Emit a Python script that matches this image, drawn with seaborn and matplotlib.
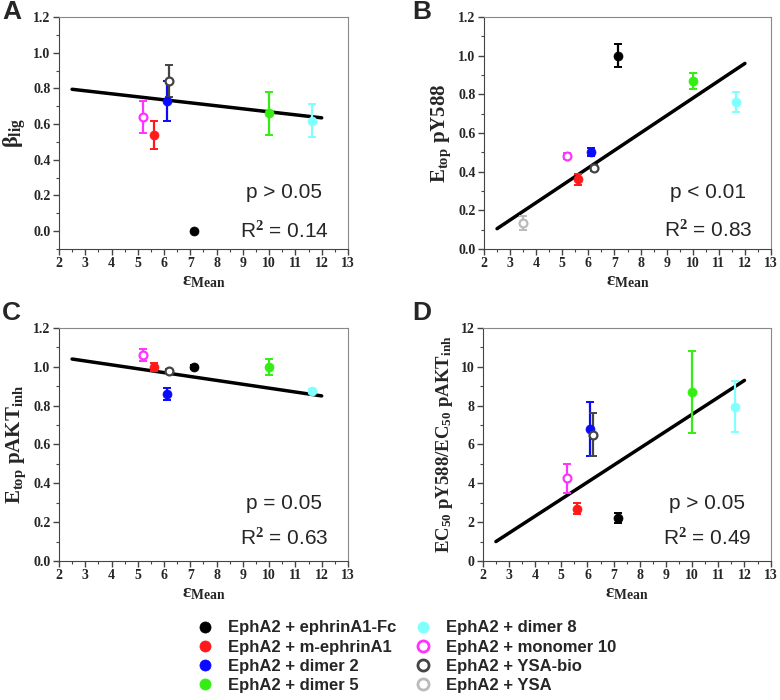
import numpy as np
import matplotlib
matplotlib.use("Agg")
import matplotlib.pyplot as plt
from matplotlib.ticker import MultipleLocator
from matplotlib.lines import Line2D
import seaborn as sns

# series names, colours and marker fill
names = ["EphA2 + ephrinA1-Fc", "EphA2 + m-ephrinA1", "EphA2 + dimer 2", "EphA2 + dimer 5",
         "EphA2 + dimer 8", "EphA2 + monomer 10", "EphA2 + YSA-bio", "EphA2 + YSA"]
colors = ["#000000", "#ff1a1a", "#0a0aff", "#33ee11", "#80ffff", "#ff33ff", "#444444", "#bbbbbb"]
hollow = [False, False, False, False, False, True, True, True]

# epsilon mean (x) for each series
eps_mean = [7.15, 5.6, 6.1, 10.0, 11.65, 5.2, 6.2, 3.5]

# panel A: beta_lig (None = not measured)
beta_lig = [0.0, 0.54, 0.73, 0.66, 0.62, 0.64, 0.84, None]
beta_lig_err = [0.0, 0.08, 0.11, 0.12, 0.09, 0.09, 0.09, None]
fitA_x, fitA_y = [2.5, 12.0], [0.795, 0.635]

# panel B: E_top pY588
etop_py = [1.00, 0.36, 0.50, 0.87, 0.76, 0.48, 0.42, 0.135]
etop_py_err = [0.06, 0.03, 0.02, 0.04, 0.05, 0.015, 0.015, 0.035]
fitB_x, fitB_y = [2.5, 12.0], [0.105, 0.96]

# panel C: E_top pAKT_inh
etop_akt = [1.00, 1.00, 0.86, 1.00, 0.875, 1.06, 0.98, None]
etop_akt_err = [0.01, 0.02, 0.03, 0.04, 0.01, 0.03, 0.01, None]
fitC_x, fitC_y = [2.5, 12.0], [1.04, 0.85]

# panel D: EC50 ratio
ec50_ratio = [2.2, 2.7, 6.8, 8.7, 7.95, 4.25, 6.5, None]
ec50_ratio_err = [0.25, 0.3, 1.4, 2.1, 1.3, 0.75, 1.1, None]
fitD_x, fitD_y = [2.5, 12.0], [1.0, 9.3]

sns.set_style("ticks")
plt.rcParams["font.family"] = ["Liberation Serif"]
plt.rcParams["font.weight"] = "bold"
plt.rcParams["mathtext.fontset"] = "custom"
plt.rcParams["mathtext.rm"] = "Liberation Serif:bold"
plt.rcParams["mathtext.it"] = "Liberation Serif:bold"
plt.rcParams["mathtext.bf"] = "Liberation Serif:bold"

fig = plt.figure(figsize=(7.8, 7.0), dpi=100)
axA = fig.add_axes([0.0756, 0.6443, 0.3705, 0.3314])
axB = fig.add_axes([0.6205, 0.6443, 0.368, 0.3314])
axC = fig.add_axes([0.0756, 0.1986, 0.3705, 0.3329])
axD = fig.add_axes([0.619, 0.1986, 0.369, 0.3329])


def panel(ax, yv, ye, fx, fy, ylim, ystep, ylabel, ptxt, r2txt, letter, ylab_size):
    sns.lineplot(x=fx, y=fy, ax=ax, color="black", lw=2.5, zorder=2)
    for i in range(len(names)):
        if yv[i] is None:
            continue
        if ye[i] > 0:
            ax.errorbar(eps_mean[i], yv[i], yerr=ye[i], fmt="none", ecolor=colors[i],
                        elinewidth=1.6, capsize=3, capthick=1.4, zorder=3)
        face = "white" if hollow[i] else colors[i]
        sns.scatterplot(x=[eps_mean[i]], y=[yv[i]], ax=ax, s=42 if not hollow[i] else 32,
                        color=face, edgecolor=colors[i],
                        linewidth=1.6 if hollow[i] else 0.5, zorder=4)
    ax.set_xlim(2, 13)
    ax.set_ylim(*ylim)
    xt = np.arange(2, 14)
    ax.set_xticks(xt)
    ax.set_xticklabels([str(v) for v in xt], fontweight="bold", fontfamily="Liberation Serif")
    ax.xaxis.set_minor_locator(MultipleLocator(0.5))
    ticks = np.arange(0, ylim[1] + 1e-9, ystep)
    ax.set_yticks(ticks)
    ylabs = [f"{v:.1f}" for v in ticks] if ystep < 1 else [f"{v:.0f}" for v in ticks]
    ax.set_yticklabels(ylabs, fontweight="bold", fontfamily="Liberation Serif")
    ax.yaxis.set_minor_locator(MultipleLocator(ystep / 2))
    ax.tick_params(which="major", direction="out", length=4, width=1, color="#444444",
                   labelsize=10, pad=2)
    ax.tick_params(which="minor", direction="out", length=2.5, width=0.8, color="#444444")
    for s in ["left", "bottom"]:
        ax.spines[s].set_color("#444444")
    for s in ["top", "right"]:
        ax.spines[s].set_color("#888888")
        ax.spines[s].set_visible(True)
    ax.set_xlabel("ε$_{\\mathrm{Mean}}$", fontsize=14, labelpad=2, fontweight="bold",
                  fontfamily="Liberation Serif")
    ax.set_ylabel(ylabel, fontsize=ylab_size, labelpad=4, fontweight="bold",
                  fontfamily="Liberation Serif")
    ax.text(0.78, 0.245, ptxt, transform=ax.transAxes, ha="center", va="center",
            family="Liberation Sans", weight="normal", fontsize=15)
    ax.text(0.78, r2txt[1], r2txt[0], transform=ax.transAxes, ha="center", va="center",
            family="Liberation Sans", weight="normal", fontsize=15)
    ax.text(letter[1], letter[2], letter[0], transform=fig.transFigure, ha="left", va="top",
            family="Liberation Sans", weight="bold", fontsize=19)


panel(axA, beta_lig, beta_lig_err, fitA_x, fitA_y, (-0.1, 1.2), 0.2,
      "β$_{\\mathrm{lig}}$", "p > 0.05", ("R$^2$ = 0.14", 0.078), ("A", 0.003, 1.0), 16)
panel(axB, etop_py, etop_py_err, fitB_x, fitB_y, (0, 1.2), 0.2,
      "E$_{\\mathrm{top}}$ pY588", "p < 0.01", ("R$^2$ = 0.83", 0.082), ("B", 0.528, 1.0), 15)
panel(axC, etop_akt, etop_akt_err, fitC_x, fitC_y, (0, 1.2), 0.2,
      "E$_{\\mathrm{top}}$ pAKT$_{\\mathrm{inh}}$", "p = 0.05", ("R$^2$ = 0.63", 0.099), ("C", 0.003, 0.57), 15)
panel(axD, ec50_ratio, ec50_ratio_err, fitD_x, fitD_y, (0, 12), 2,
      "EC$_{50}$ pY588/EC$_{50}$ pAKT$_{\\mathrm{inh}}$", "p > 0.05", ("R$^2$ = 0.49", 0.099), ("D", 0.528, 0.57), 13.5)

handles = []
for i in range(len(names)):
    face = "white" if hollow[i] else colors[i]
    handles.append(Line2D([], [], ls="none", marker="o", markersize=8, markerfacecolor=face,
                          markeredgecolor=colors[i], markeredgewidth=2 if hollow[i] else 0.5))
fig.legend(handles, names, ncol=2, loc="center", bbox_to_anchor=(0.52, 0.062), frameon=False,
           prop={"family": "Liberation Sans", "size": 12, "weight": "bold"}, handletextpad=0.8,
           columnspacing=1.0, labelspacing=0.25, handlelength=1.2)

fig.savefig("out.png", dpi=100)
